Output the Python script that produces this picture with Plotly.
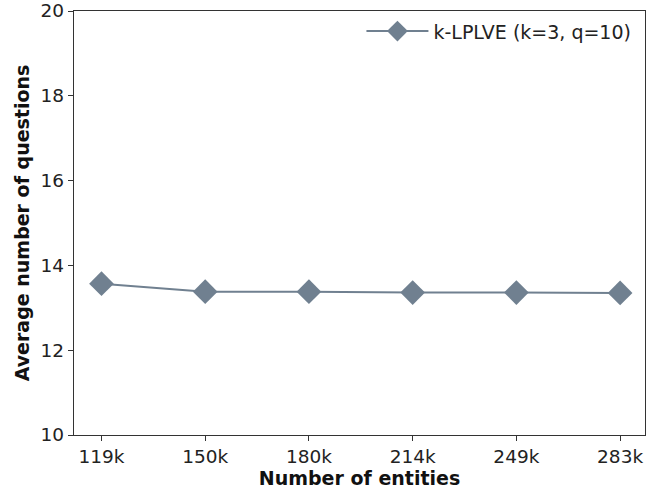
import plotly.graph_objects as go

categories = ["119k", "150k", "180k", "214k", "249k", "283k"]
avg_questions = [13.57, 13.38, 13.38, 13.36, 13.36, 13.35]
series_name = "k-LPLVE (k=3, q=10)"
y_ticks = [10, 12, 14, 16, 18, 20]

fig = go.Figure()
fig.add_trace(go.Scatter(
    x=list(range(len(categories))), y=avg_questions, mode="lines+markers",
    name=series_name,
    line=dict(color="#708090", width=2),
    marker=dict(symbol="diamond", size=19, color="#708090"),
))

axis_common = dict(showgrid=False, zeroline=False, showline=True, linecolor="#333333", linewidth=1.3,
                   ticks="outside", ticklen=5, tickcolor="#333333", mirror=True,
                   ticklabeloverflow="allow",
                   tickfont=dict(family="DejaVu Sans", size=18.5, color="#222222"))

fig.update_layout(
    width=646, height=492,
    margin=dict(l=74, r=0, t=8, b=57),
    plot_bgcolor="white", paper_bgcolor="white",
    font=dict(family="DejaVu Sans", size=18.5, color="#222222"),
    xaxis=dict(**axis_common, tickvals=list(range(len(categories))), ticktext=categories,
               range=[-0.265, 5.24],
               title=dict(text="<b>Number of entities</b>", standoff=2,
                          font=dict(family="DejaVu Sans", size=19, color="#111111"))),
    yaxis=dict(**axis_common, tickvals=y_ticks, range=[10, 20],
               title=dict(text="<b>Average number of questions</b>", standoff=5,
                          font=dict(family="DejaVu Sans", size=19, color="#111111"))),
    showlegend=True,
    legend=dict(x=0.985, y=0.997, xanchor="right", yanchor="top", bgcolor="rgba(0,0,0,0)",
                font=dict(family="DejaVu Sans", size=19, color="#222222"), itemwidth=62),
)

fig.write_html("out.html")
